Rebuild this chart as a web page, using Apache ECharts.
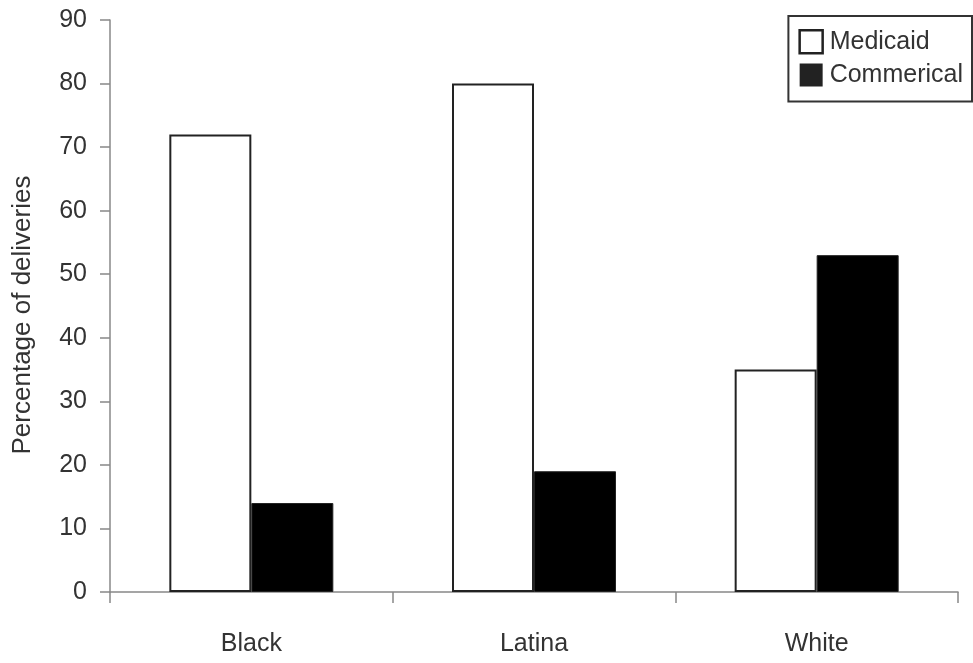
<!DOCTYPE html>
<html>
<head>
<meta charset="utf-8">
<script src="https://cdn.jsdelivr.net/npm/echarts@6/dist/echarts.min.js"></script>
<style>html,body{margin:0;padding:0;background:#fff}#c{width:973px;height:663px}</style>
</head>
<body>
<div id="c"></div>
<script>
const categories = ['Black', 'Latina', 'White'];
const medicaid = [72, 80, 35];
const commercial = [14, 19, 53];
const yTicks = { min: 0, max: 90, interval: 10 };

const chart = echarts.init(document.getElementById('c'), null, { renderer: 'canvas' });
const font = 'Liberation Sans, Arial, sans-serif';
chart.setOption({
  animation: false,
  backgroundColor: '#fff',
  textStyle: { fontFamily: font },
  grid: { left: 110, right: 15, top: 20, bottom: 71, containLabel: false },
  legend: {
    orient: 'vertical', right: 1, top: 16,
    padding: [13, 9, 14, 10],
    itemWidth: 23, itemHeight: 23, itemGap: 8,
    borderColor: '#333', borderWidth: 2,
    textStyle: { fontSize: 25, color: '#333', fontFamily: font, padding: [0, 0, 0, 2] },
    icon: 'rect',
    data: [
      { name: 'Medicaid', itemStyle: { color: '#fff', borderColor: '#222', borderWidth: 2.5 } },
      { name: 'Commerical', itemStyle: { color: '#222', borderWidth: 0 } }
    ]
  },
  xAxis: {
    type: 'category', data: categories,
    axisLine: { lineStyle: { color: '#888', width: 1.5 } },
    axisTick: { show: true, length: 11, alignWithLabel: false, lineStyle: { color: '#888', width: 1.5 } },
    axisLabel: { fontSize: 25, color: '#333', margin: 40, fontFamily: font }
  },
  yAxis: {
    type: 'value', min: yTicks.min, max: yTicks.max, interval: yTicks.interval,
    name: 'Percentage of deliveries', nameLocation: 'middle', nameGap: 74,
    nameTextStyle: { fontSize: 26, color: '#333', fontFamily: font, padding: [0, 18, 0, 0] },
    axisLine: { show: true, lineStyle: { color: '#888', width: 1.5 } },
    axisTick: { show: true, length: 10, lineStyle: { color: '#888', width: 1.5 } },
    splitLine: { show: false },
    axisLabel: { fontSize: 25, color: '#333', margin: 23, fontFamily: font }
  },
  series: [
    { name: 'Medicaid', type: 'bar', data: medicaid, barWidth: 82, barGap: '0%',
      itemStyle: { color: '#fff', borderColor: '#222', borderWidth: 2 } },
    { name: 'Commerical', type: 'bar', data: commercial, barWidth: 82,
      itemStyle: { color: '#000', borderColor: '#222', borderWidth: 1 } }
  ]
});
</script>
</body>
</html>
